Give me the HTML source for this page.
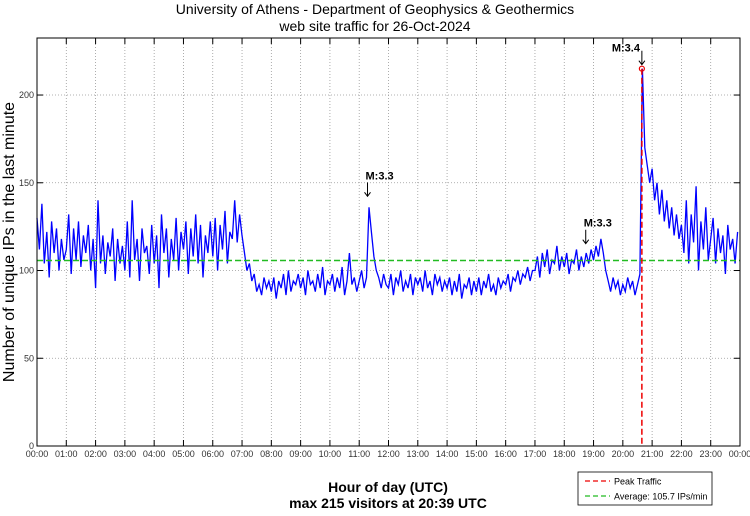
<!DOCTYPE html>
<html><head><meta charset="utf-8"><style>
body{margin:0;background:#fff;font-family:"Liberation Sans",sans-serif}
svg text{font-family:"Liberation Sans",sans-serif}
</style></head><body>
<svg width="750" height="511" viewBox="0 0 750 511">
<text x="375" y="14" font-size="14" text-anchor="middle">University of Athens - Department of Geophysics &amp; Geothermics</text>
<text x="375" y="31" font-size="14" text-anchor="middle">web site traffic for 26-Oct-2024</text>
<g id="grid"></g>
<g id="series"></g>
<rect x="37" y="38" width="703" height="408" fill="none" stroke="#000"/>
<g id="axes"></g>
<text transform="translate(14,242) rotate(-90)" font-size="16" text-anchor="middle">Number of unique IPs in the last minute</text>
<text x="388" y="492" font-size="14" font-weight="bold" text-anchor="middle">Hour of day (UTC)</text>
<text x="388" y="508" font-size="14" font-weight="bold" text-anchor="middle">max 215 visitors at 20:39 UTC</text>
<g>
<rect x="578" y="472" width="134" height="33" fill="#fff" stroke="#000" stroke-width="0.8"/>
<line x1="585" y1="481" x2="610" y2="481" stroke="#e00" stroke-width="1.3" stroke-dasharray="5,3"/>
<text x="614" y="484.5" font-size="9">Peak Traffic</text>
<line x1="585" y1="496" x2="610" y2="496" stroke="#2b2" stroke-width="1.3" stroke-dasharray="5,3"/>
<text x="614" y="499.5" font-size="9">Average: 105.7 IPs/min</text>
</g>
<g id="annot"></g>
</svg>
<script>
const values=[
130,112,138,104,122,96,128,110,124,100,118,106,
112,132,98,124,106,128,102,120,110,126,100,118,
90,140,104,120,98,116,108,124,94,118,104,114,
100,128,96,140,106,118,94,124,110,114,98,126,
104,120,90,132,110,124,96,118,106,130,100,122,
112,128,98,124,108,132,104,126,96,120,110,128,
108,130,100,126,112,134,104,122,118,140,116,132,
120,110,100,104,94,98,88,92,86,96,90,94,
88,96,84,94,90,98,86,100,88,94,92,98,
90,96,86,100,92,94,88,98,90,102,86,94,
92,98,88,96,90,102,86,94,110,92,96,88,
94,100,90,96,136,122,108,100,96,90,98,92,
90,98,86,96,92,100,88,94,90,98,86,96,
92,96,88,100,90,94,86,98,92,96,88,94,
90,96,86,94,88,98,84,92,90,96,86,94,
88,96,86,94,90,98,88,92,86,96,90,94,
92,98,88,96,94,100,92,98,96,102,94,100,
100,108,96,110,102,112,98,106,104,114,100,108,
102,110,98,106,104,112,100,108,102,110,104,112,
106,114,108,118,110,100,94,88,96,90,94,86,
92,88,96,90,94,86,92,98,215,170,160,150,
158,140,150,132,146,128,140,124,136,120,132,118,
126,110,140,104,132,116,148,100,128,112,136,106,
118,130,104,124,110,120,98,126,112,118,104,122];
const stepMin=5;
const average=105.7;
const peakValue=215;
const peakMinute=20*60+39;
const yTicks=[0,50,100,150,200];
const xTickLabels=["00:00","01:00","02:00","03:00","04:00","05:00","06:00","07:00","08:00","09:00","10:00","11:00","12:00","13:00","14:00","15:00","16:00","17:00","18:00","19:00","20:00","21:00","22:00","23:00","00:00"];
const annotations=[{label:"M:3.4",minute:20*60+39,value:215},{label:"M:3.3",minute:11*60+17,value:140},{label:"M:3.3",minute:18*60+44,value:113}];
const NS="http://www.w3.org/2000/svg";
const X0=37,X1=740,Y0=446,Y1=38,YMAX=232.5;
const xs=m=>X0+(X1-X0)*m/1440;
const ys=v=>Y0-(Y0-Y1)*v/YMAX;
function mk(tag,attrs,parent){const e=document.createElementNS(NS,tag);for(const k in attrs)e.setAttribute(k,attrs[k]);parent.appendChild(e);return e;}
const grid=document.getElementById('grid'),axes=document.getElementById('axes'),ser=document.getElementById('series'),ann=document.getElementById('annot');
xTickLabels.forEach((t,i)=>{const x=xs(i*60);
 if(i>0&&i<24){const g=mk('line',{x1:x,x2:x,y1:Y1,y2:Y0,stroke:'#999','stroke-dasharray':'1,2','stroke-width':0.8},grid);
 }
 const tk=mk('line',{x1:x,x2:x,y1:Y0,y2:Y0-6,stroke:'#000'},axes);
 const tk2=mk('line',{x1:x,x2:x,y1:Y1,y2:Y1+6,stroke:'#000'},axes);
 const tx=mk('text',{x:x,y:457,'font-size':9,'text-anchor':'middle',fill:'#333'},axes);tx.textContent=t;
 });
yTicks.forEach(v=>{const y=ys(v);
 if(v>0){const g=mk('line',{x1:X0,x2:X1,y1:y,y2:y,stroke:'#999','stroke-dasharray':'1,2','stroke-width':0.8},grid);
 }
 const tk=mk('line',{x1:X0,x2:X0+6,y1:y,y2:y,stroke:'#000'},axes);
 const tk2=mk('line',{x1:X1-6,x2:X1,y1:y,y2:y,stroke:'#000'},axes);
 const tx=mk('text',{x:X0-3,y:y+3,'font-size':9,'text-anchor':'end',fill:'#333'},axes);tx.textContent=v;
 });
const pts=values.map((v,i)=>xs(i*stepMin).toFixed(1)+','+ys(v).toFixed(1)).join(' ');
const pl=mk('polyline',{points:pts,fill:'none',stroke:'#00f','stroke-width':1.3},ser);

const av=mk('line',{x1:X0,x2:X1,y1:ys(average),y2:ys(average),stroke:'#2b2','stroke-width':1.5,'stroke-dasharray':'6,3'},ser);

const pk=mk('line',{x1:xs(peakMinute),x2:xs(peakMinute),y1:ys(peakValue),y2:Y0,stroke:'#e00','stroke-width':1.5,'stroke-dasharray':'6,3'},ser);

const pc=mk('circle',{cx:xs(peakMinute),cy:ys(peakValue),r:2.5,fill:'none',stroke:'#e00','stroke-width':1.2},ser);

annotations.forEach(a=>{const x=xs(a.minute),y=ys(a.value)-4;
 const ar=mk('path',{d:`M${x},${y-14} L${x},${y} M${x-3},${y-4} L${x},${y} L${x+3},${y-4}`,stroke:'#000',fill:'none','stroke-width':1},ann);
 
 const t=mk('text',{x:x-2,y:y-17,'font-size':11,'font-weight':'bold'},ann);t.textContent=a.label;
 if(a.value>200){t.setAttribute('x',x-30);t.setAttribute('y',y-13);}
 });
</script>
</body></html>
